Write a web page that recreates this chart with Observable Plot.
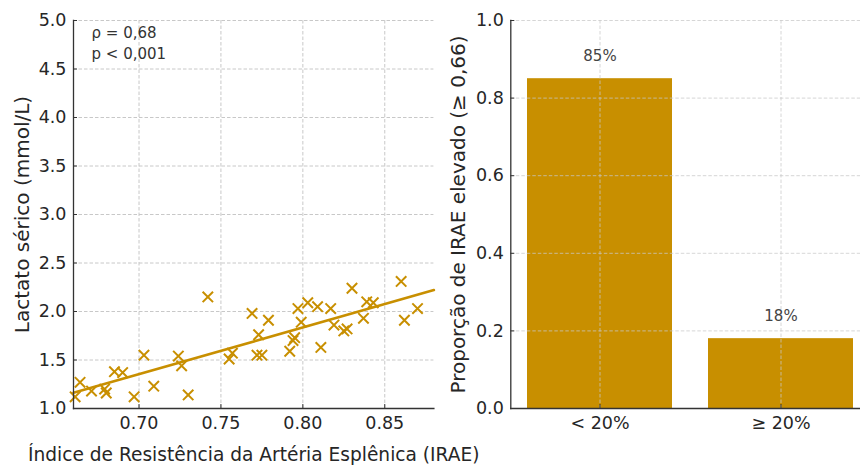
<!DOCTYPE html>
<html><head><meta charset="utf-8">
<script src="https://cdn.jsdelivr.net/npm/d3@7"></script>
<script src="https://cdn.jsdelivr.net/npm/@observablehq/plot@0.6"></script>
<style>
html,body{margin:0;padding:0;background:#fff;overflow:hidden;}
#wrap{position:relative;width:860px;height:465px;overflow:hidden;background:#fff;}
#left{position:absolute;left:0;top:0;width:440px;height:465px;z-index:2;}
#right{position:absolute;left:440px;top:0;width:430px;height:465px;z-index:1;}
</style></head>
<body><div id="wrap"><div id="left"></div><div id="right"></div></div>
<script>
// ---- data ----
const irae = [0.661,0.664,0.671,0.679,0.680,0.685,0.690,0.697,0.703,0.709,0.724,0.726,0.730,0.742,0.755,0.757,0.769,0.773,0.772,0.775,0.779,0.792,0.794,0.795,0.797,0.799,0.803,0.809,0.811,0.817,0.819,0.825,0.827,0.830,0.837,0.839,0.843,0.860,0.862,0.870];
const lactato = [1.12,1.27,1.18,1.20,1.16,1.38,1.37,1.12,1.55,1.23,1.54,1.44,1.14,2.15,1.51,1.57,1.98,1.76,1.55,1.55,1.91,1.59,1.70,1.73,2.03,1.89,2.09,2.05,1.63,2.03,1.86,1.80,1.82,2.24,1.93,2.10,2.09,2.31,1.91,2.03];
const xTicks1 = [0.70,0.75,0.80,0.85];
const yTicks1 = [1.0,1.5,2.0,2.5,3.0,3.5,4.0,4.5,5.0];
const groups = ["< 20%","≥ 20%"];
const proportions = [0.85,0.18];
const yTicks2 = [0.0,0.2,0.4,0.6,0.8,1.0];
const annotation = "ρ = 0,68\np < 0,001";
const xLabel1 = "Índice de Resistência da Artéria Esplênica (IRAE)";
const yLabel1 = "Lactato sérico (mmol/L)";
const yLabel2 = "Proporção de IRAE elevado (≥ 0,66)";

// ---- style ----
const gold = "#c88f00";
const font = "DejaVu Sans";
const H = 465, mT = 20, mB = 57;
const innerH = H - mT - mB;
const gridOpts = {stroke:"#c8c8c8", strokeOpacity:1, strokeDasharray:"3.5,2", strokeWidth:1};
const spine = {stroke:"#333", strokeWidth:1.3};

// ---- left: scatter ----
const xDomain = [0.66, 0.88];
const W1 = 440, mL1 = 73, mR1 = 6.6, innerW1 = W1 - mL1 - mR1;
const pts = irae.map((x,i)=>({x, y: lactato[i]}));
const mx = d3.mean(irae), my = d3.mean(lactato);
const slope = d3.sum(irae,(x,i)=>(x-mx)*(lactato[i]-my)) / d3.sum(irae,x=>(x-mx)**2);
const icpt = my - slope*mx;
const fit = xDomain.map(x=>({x, y: icpt + slope*x}));

const left = Plot.plot({
  width: W1, height: H, marginLeft: mL1, marginRight: mR1, marginTop: mT, marginBottom: mB,
  style: {fontFamily: font, fontSize: "17.5px", color: "#262626", background: "white", overflow: "visible"},
  x: {domain: xDomain, nice: false},
  y: {domain: [1,5]},
  marks: [
    Plot.gridX(xTicks1, gridOpts),
    Plot.gridY(yTicks1, gridOpts),
    Plot.line(fit, {x:"x", y:"y", stroke: gold, strokeWidth: 2.6}),
    Plot.dot(pts, {x:"x", y:"y", symbol:"times", r:4.8, stroke: gold, strokeWidth: 2}),
    Plot.frame({anchor:"left", ...spine}),
    Plot.frame({anchor:"bottom", ...spine}),
    Plot.tickY(yTicks1, {y: d=>d, insetRight: innerW1 - 4, stroke:"#333"}),
    Plot.tickX(xTicks1, {x: d=>d, insetTop: innerH - 4, stroke:"#333"}),
    Plot.axisY(yTicks1, {tickSize:0, tickPadding:7, tickFormat: d3.format(".1f"), label:null}),
    Plot.axisX(xTicks1, {tickSize:0, tickPadding:8, tickFormat: d3.format(".2f"), label:null}),
    Plot.text([annotation], {text: d=>d, frameAnchor:"top-left", dx:18, dy:3.5, lineAnchor:"top", textAnchor:"start", fontSize:15, fill:"#333", lineHeight:1.35}),
    Plot.text([xLabel1], {text: d=>d, frameAnchor:"bottom", dy:47, lineAnchor:"middle", textAnchor:"middle", fontSize:18.6, fill:"#262626"}),
    Plot.text([yLabel1], {text: d=>d, frameAnchor:"left", dx:-51, rotate:-90, lineAnchor:"middle", textAnchor:"middle", fontSize:20, fill:"#262626"})
  ]
});
document.getElementById("left").appendChild(left);

// ---- right: bars ----
const W2 = 430, mL2 = 70.3, mR2 = 0.7, innerW2 = W2 - mL2 - mR2;
const bars = groups.map((g,i)=>({g, v: proportions[i]}));
const pct = d3.format(".0%");
const right = Plot.plot({
  width: W2, height: H, marginLeft: mL2, marginRight: mR2, marginTop: mT, marginBottom: mB,
  style: {fontFamily: font, fontSize: "17.5px", color: "#262626", background: "white", overflow: "visible"},
  x: {domain: groups, paddingInner: 0.2, paddingOuter: 0.09, align: 0.5},
  y: {domain: [0,1]},
  marks: [
    Plot.barY(bars, {x:"g", y:"v", fill: gold}),
    Plot.gridX(groups, {...gridOpts, strokeOpacity:0.75}),
    Plot.gridY(yTicks2, {...gridOpts, strokeOpacity:0.75}),
    Plot.text(bars, {x:"g", y:"v", text: d=>pct(d.v), dy:-17.5, lineAnchor:"bottom", fontSize:15, fill:"#444"}),
    Plot.frame({anchor:"left", ...spine}),
    Plot.frame({anchor:"bottom", ...spine}),
    Plot.tickY(yTicks2, {y: d=>d, insetRight: innerW2 - 4, stroke:"#333"}),
    Plot.tickX(groups, {x: d=>d, insetTop: innerH - 4, stroke:"#333"}),
    Plot.axisY(yTicks2, {tickSize:0, tickPadding:7, tickFormat: d3.format(".1f"), label:null}),
    Plot.axisX({tickSize:0, tickPadding:8, label:null}),
    Plot.text([yLabel2], {text: d=>d, frameAnchor:"left", dx:-52, rotate:-90, lineAnchor:"middle", textAnchor:"middle", fontSize:20, fill:"#262626"})
  ]
});
document.getElementById("right").appendChild(right);
</script>
</body></html>
